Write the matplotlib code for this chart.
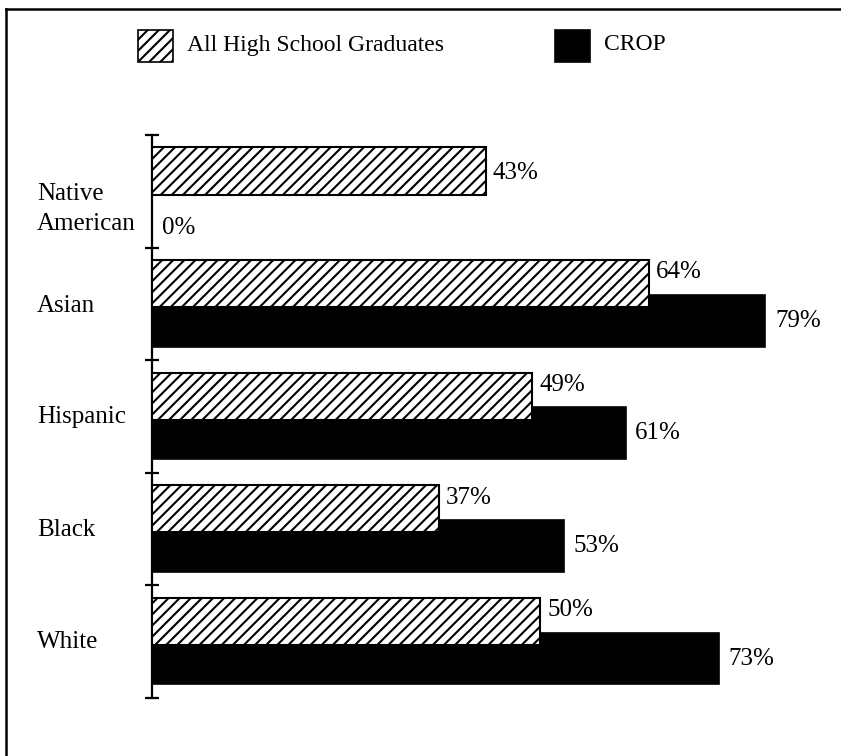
import matplotlib
matplotlib.use("Agg")
import matplotlib.pyplot as plt
from matplotlib.patches import Rectangle
from matplotlib.lines import Line2D
import numpy as np

GROUPS = ["Native\nAmerican", "Asian", "Hispanic", "Black", "White"]
ALL_GRADS = [43, 64, 49, 37, 50]
CROP = [0, 79, 61, 53, 73]

SERIES_ALL = "All High School Graduates"
SERIES_CROP = "CROP"

plt.rcParams["font.family"] = ["Liberation Serif", "DejaVu Serif"]
plt.rcParams["hatch.linewidth"] = 1.5
FS = 18
FS_LEGEND = 17


def main():
    fig = plt.figure(figsize=(8.41, 7.56), dpi=100)
    ax = fig.add_axes([152 / 841, 58 / 756, 660 / 841, 563 / 756])

    y = np.arange(len(GROUPS))
    y_all = y - 0.18
    y_crop = y + 0.15

    ax.barh(y_crop, CROP, height=0.46, color="black", edgecolor="black",
            linewidth=1.2, zorder=2)
    ax.barh(y_all, ALL_GRADS, height=0.42, color="white", edgecolor="black",
            hatch="///", linewidth=1.5, zorder=3)

    ax.set_xlim(0, 85)
    ax.set_ylim(len(GROUPS) - 0.5, -0.5)

    # value labels next to the bar ends
    for i, (a, c) in enumerate(zip(ALL_GRADS, CROP)):
        if c == 0:
            ya, yc = y_all[i] + 0.02, y_crop[i] + 0.18
        else:
            ya, yc = y_all[i] - 0.1, y_crop[i]
        ax.annotate(f"{a}%", (a, ya), xytext=(5, 0), textcoords="offset points",
                    ha="left", va="center", fontsize=FS)
        ax.annotate(f"{c}%", (c, yc), xytext=(7, 0), textcoords="offset points",
                    ha="left", va="center", fontsize=FS)

    # category names on the left
    label_shift = [0.155, 0.02, 0.0, 0.01, 0.0]
    trans = ax.get_yaxis_transform()
    for i, name in enumerate(GROUPS):
        ax.text(-0.174, y[i] + label_shift[i], name, transform=trans,
                ha="left", va="center", fontsize=FS, linespacing=1.5)

    for s in ["top", "right", "bottom"]:
        ax.spines[s].set_visible(False)
    ax.spines["left"].set_linewidth(1.6)
    ax.set_xticks([])
    ax.set_yticks(np.arange(-0.5, len(GROUPS), 1.0))
    ax.set_yticklabels([])
    ax.tick_params(axis="y", direction="inout", length=10, width=1.6)

    # legend drawn in figure coordinates
    W, H = 841, 756
    fig.add_artist(Rectangle((138 / W, 1 - 62 / H), 35 / W, 32 / H,
                             transform=fig.transFigure, facecolor="white",
                             edgecolor="black", hatch="///", linewidth=1.2))
    fig.text(187 / W, 1 - 45 / H, SERIES_ALL, ha="left", va="center",
             fontsize=FS_LEGEND)
    fig.add_artist(Rectangle((555 / W, 1 - 62 / H), 35 / W, 32 / H,
                             transform=fig.transFigure, facecolor="black",
                             edgecolor="black", linewidth=1.2))
    fig.text(604 / W, 1 - 45 / H, SERIES_CROP, ha="left", va="center",
             fontsize=FS_LEGEND)

    # outer frame (top and left edges)
    fig.add_artist(Line2D([6 / W, 840 / W], [1 - 9 / H, 1 - 9 / H],
                          transform=fig.transFigure, color="black", linewidth=1.8))
    fig.add_artist(Line2D([6 / W, 6 / W], [0, 1 - 9 / H],
                          transform=fig.transFigure, color="black", linewidth=1.8))

    fig.savefig("out.png", dpi=100)


if __name__ == "__main__":
    main()
